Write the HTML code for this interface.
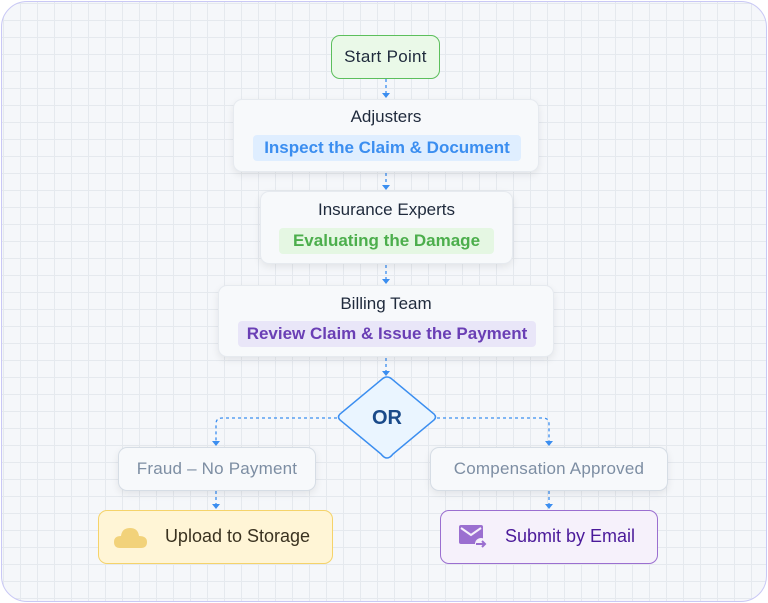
<!DOCTYPE html>
<html><head><style>
body{margin:0;width:768px;height:603px;overflow:hidden;background:#fff;font-family:"Liberation Sans",sans-serif}
.frame{position:absolute;left:1px;top:1px;width:764px;height:599px;border:1px solid #c9c8f5;border-radius:26px;
background-color:#f5f7fa;
background-image:linear-gradient(#e5e9ee 1px,transparent 1px),linear-gradient(90deg,#e5e9ee 1px,transparent 1px);
background-size:17px 17px;background-position:1px 1px;overflow:hidden}
.n{position:absolute;box-sizing:border-box;border-radius:9px;text-align:center;color:#1f2a3c}
.card{background:#f7f9fb;border:1px solid #e6eaef;box-shadow:0 3px 8px rgba(0,0,0,.08)}
.t{position:absolute;left:0;right:0;font-size:17px}
.pill{position:absolute;border-radius:4px;font-weight:bold;font-size:17px;line-height:26px}
</style></head><body>
<div class="frame"></div>
<svg width="768" height="603" style="position:absolute;left:0;top:0">
<g stroke="#3b8ef0" stroke-width="1.3" stroke-dasharray="3 3" fill="none">
<line x1="386" y1="79" x2="386" y2="94"/>
<line x1="386" y1="173" x2="386" y2="186"/>
<line x1="386" y1="265" x2="386" y2="280"/>
<line x1="386" y1="358" x2="386" y2="372"/>
<path d="M337 418 H222 Q216 418 216 424 V442"/>
<path d="M437 418 H543 Q549 418 549 424 V442"/>
<line x1="216" y1="491" x2="216" y2="505"/>
<line x1="549" y1="491" x2="549" y2="505"/>
</g>
<g fill="#3b8ef0">
<path d="M382 93 L390 93 L386 98Z"/><path d="M382 185 L390 185 L386 190Z"/>
<path d="M382 279 L390 279 L386 284Z"/><path d="M382 371 L390 371 L386 376Z"/>
<path d="M212 441 L220 441 L216 446Z"/><path d="M545 441 L553 441 L549 446Z"/>
<path d="M212 504 L220 504 L216 509Z"/><path d="M545 504 L553 504 L549 509Z"/>
</g>
<path d="M387 377 Q390 377 393 380 L434 414 Q437 417 434 420 L393 454 Q390 458 387 458 Q384 458 381 454 L340 420 Q337 417 340 414 L381 380 Q384 377 387 377Z" fill="#eaf5ff" stroke="#3b8ef0" stroke-width="1.5"/>
<text x="387" y="424" text-anchor="middle" font-family="Liberation Sans" font-size="20" font-weight="bold" fill="#1a4a8a">OR</text>
</svg>
<div class="n" style="left:331px;top:35px;width:109px;height:44px;background:#eaf9e8;border:1.5px solid #5cbf5c;line-height:41px;font-size:17px;letter-spacing:0.3px">Start Point</div>
<div class="n card" style="left:233px;top:99px;width:306px;height:73px">
<div class="t" style="top:7px">Adjusters</div>
<div class="pill" style="left:19px;width:268px;top:35px;background:#dfeeff;color:#3b8ef0">Inspect the Claim &amp; Document</div></div>
<div class="n card" style="left:260px;top:191px;width:253px;height:73px">
<div class="t" style="top:8px">Insurance Experts</div>
<div class="pill" style="left:18px;width:215px;top:36px;background:#e5f7e3;color:#4cae4c">Evaluating the Damage</div></div>
<div class="n card" style="left:218px;top:285px;width:336px;height:72px">
<div class="t" style="top:8px">Billing Team</div>
<div class="pill" style="left:19px;width:298px;top:35px;background:#e9e6f8;color:#6a3fb5">Review Claim &amp; Issue the Payment</div></div>
<div class="n card" style="left:118px;top:447px;width:198px;height:44px;line-height:42px;font-size:17px;letter-spacing:0.2px;color:#7d8ea3;border-color:#d6dde5">Fraud – No Payment</div>
<div class="n card" style="left:430px;top:447px;width:238px;height:44px;line-height:42px;font-size:17px;letter-spacing:0.2px;color:#7d8ea3;border-color:#d6dde5">Compensation Approved</div>
<div class="n" style="left:98px;top:510px;width:235px;height:54px;background:#fff5d6;border:1.5px solid #f5d36a;line-height:51px;font-size:18px;color:#3a3220;padding-left:44px">Upload to Storage
<svg width="34" height="24" style="position:absolute;left:15px;top:15px"><path d="M6 22 Q0 22 0 16 Q0 10 7 10 Q8 2 16 2 Q24 2 25 10 Q33 10 33 16 Q33 22 27 22Z" fill="#f2d27a"/></svg></div>
<div class="n" style="left:440px;top:510px;width:218px;height:54px;background:#f6f1fb;border:1.5px solid #9b6fd0;line-height:51px;font-size:18px;color:#4b1a9a;padding-left:42px">Submit by Email
<svg width="30" height="26" style="position:absolute;left:18px;top:14px"><rect x="0" y="0" width="24" height="19" rx="2" fill="#9b6fd0"/><path d="M2 3 L12 10 L22 3" stroke="#f6f1fb" stroke-width="2" fill="none"/><circle cx="22" cy="19" r="6" fill="#f6f1fb"/><path d="M17 19 H26 M23 16 L26 19 L23 22" stroke="#9b6fd0" stroke-width="2" fill="none"/></svg></div>
</body></html>
